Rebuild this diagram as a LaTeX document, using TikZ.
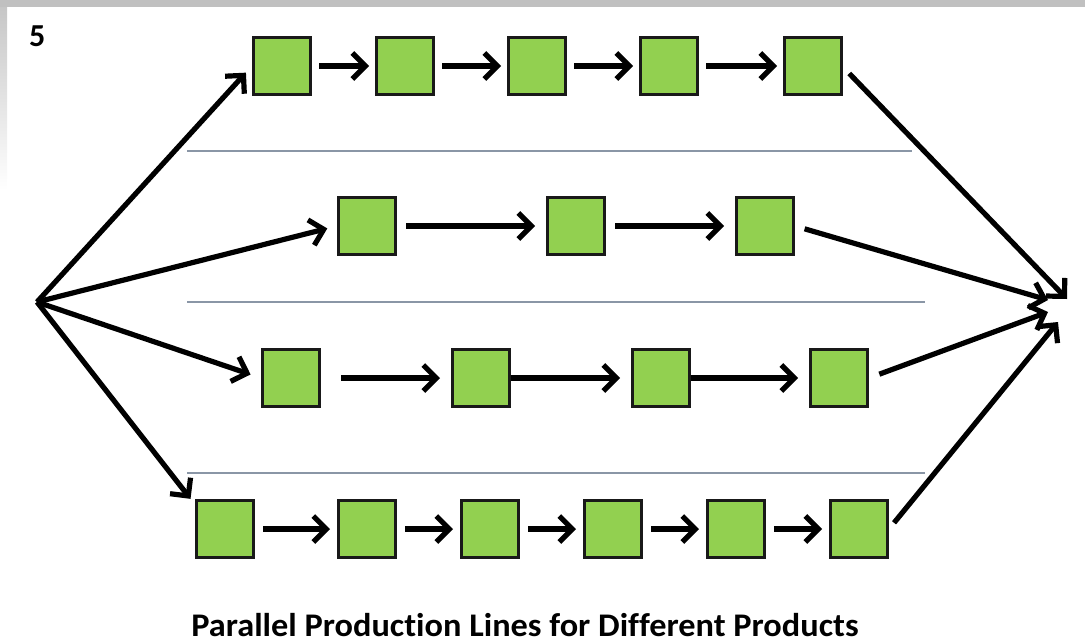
\documentclass[tikz,border=0pt]{standalone}
\usepackage{fontspec}
\setmainfont{Carlito}[Ligatures=NoCommon]
\usetikzlibrary{arrows.meta}
\definecolor{boxgreen}{HTML}{92D050}
\definecolor{rulegray}{HTML}{8A96A6}
\definecolor{framegray}{HTML}{C0C0C0}
\tikzset{
  stationbox/.style={draw=black!90, fill=boxgreen, line width=3pt,
    minimum width=57pt, minimum height=57pt, inner sep=0pt},
  flow/.style={line width=5.2pt, -{Straight Barb[length=13pt, width=26pt]}},
  divider/.style={draw=rulegray, line width=1.2pt},
}
\begin{document}
\begin{tikzpicture}[x=1pt, y=-1pt]
\useasboundingbox (0,0) rectangle (1085,643);
% window frame
\fill[framegray] (0,0) rectangle (1085,7);
\shade[top color=framegray!90, bottom color=white] (0,7) rectangle (7,190);

\node[anchor=base west, inner sep=0pt, font=\bfseries\fontsize{32}{34}\selectfont] (num) at (29,46) {5};

% dividers between the lines
\draw[divider] (187,151) -- (912,151);
\draw[divider] (187,302) -- (925,302);
\draw[divider] (187,473) -- (925,473);

% line 1
\node[stationbox] (r1a) at (282,66) {};
\node[stationbox] (r1b) at (405,66) {};
\node[stationbox] (r1c) at (537,66) {};
\node[stationbox] (r1d) at (669,66) {};
\node[stationbox] (r1e) at (813,66) {};
% line 2
\node[stationbox] (r2a) at (367,226) {};
\node[stationbox] (r2b) at (576,226) {};
\node[stationbox] (r2c) at (765,226) {};
% line 3
\node[stationbox] (r3a) at (291,378) {};
\node[stationbox] (r3b) at (481,378) {};
\node[stationbox] (r3c) at (661,378) {};
\node[stationbox] (r3d) at (839,378) {};
% line 4
\node[stationbox] (r4a) at (225,529) {};
\node[stationbox] (r4b) at (367,529) {};
\node[stationbox] (r4c) at (490,529) {};
\node[stationbox] (r4d) at (613,529) {};
\node[stationbox] (r4e) at (736,529) {};
\node[stationbox] (r4f) at (859,529) {};

% flow along each line
\foreach \a/\b in {r1a/r1b, r1b/r1c, r1c/r1d, r1d/r1e}
  \draw[flow, shorten <=7pt, shorten >=6pt] (\a.east) -- (\b.west);
\foreach \a/\b in {r2a/r2b, r2b/r2c}
  \draw[flow, shorten <=9pt, shorten >=11pt] (\a.east) -- (\b.west);
\draw[flow, shorten <=20pt, shorten >=11pt] (r3a.east) -- (r3b.west);
\foreach \a/\b in {r3b/r3c, r3c/r3d}
  \draw[flow, shorten >=11pt] (\a.east) -- (\b.west);
\foreach \a/\b in {r4a/r4b, r4b/r4c, r4c/r4d, r4d/r4e, r4e/r4f}
  \draw[flow, shorten <=8pt, shorten >=7pt] (\a.east) -- (\b.west);

% split from the common source
\coordinate (src) at (37,302);
\draw[flow, shorten >=9pt] (src) -- (r1a.west);
\draw[flow, shorten >=10pt] (src) -- (r2a.west);
\draw[flow, shorten >=11pt] (src) -- (r3a.west);
\draw[flow, shorten >=4pt] (src) -- ([xshift=-2pt,yshift=-3pt]r4a.north west);

% merge into the common sink
\coordinate (m1) at (1067,299);
\coordinate (m2) at (1048,300);
\coordinate (m3) at (1048,312);
\coordinate (m4) at (1058,322);
\draw[flow, shorten <=9pt] ([yshift=-1pt]r1e.east) -- (m1);
\draw[flow, shorten <=10pt] (r2c.east) -- (m2);
\draw[flow, shorten <=11pt] (r3d.east) -- (m3);
\draw[flow, shorten <=8pt] (r4f.east) -- (m4);

\node[anchor=base, inner sep=0pt, xscale=1.04, transform shape,
  font=\bfseries\fontsize{33}{36}\selectfont] (title) at (525,636)
  {Parallel Production Lines for Different Products};
\end{tikzpicture}
\end{document}
